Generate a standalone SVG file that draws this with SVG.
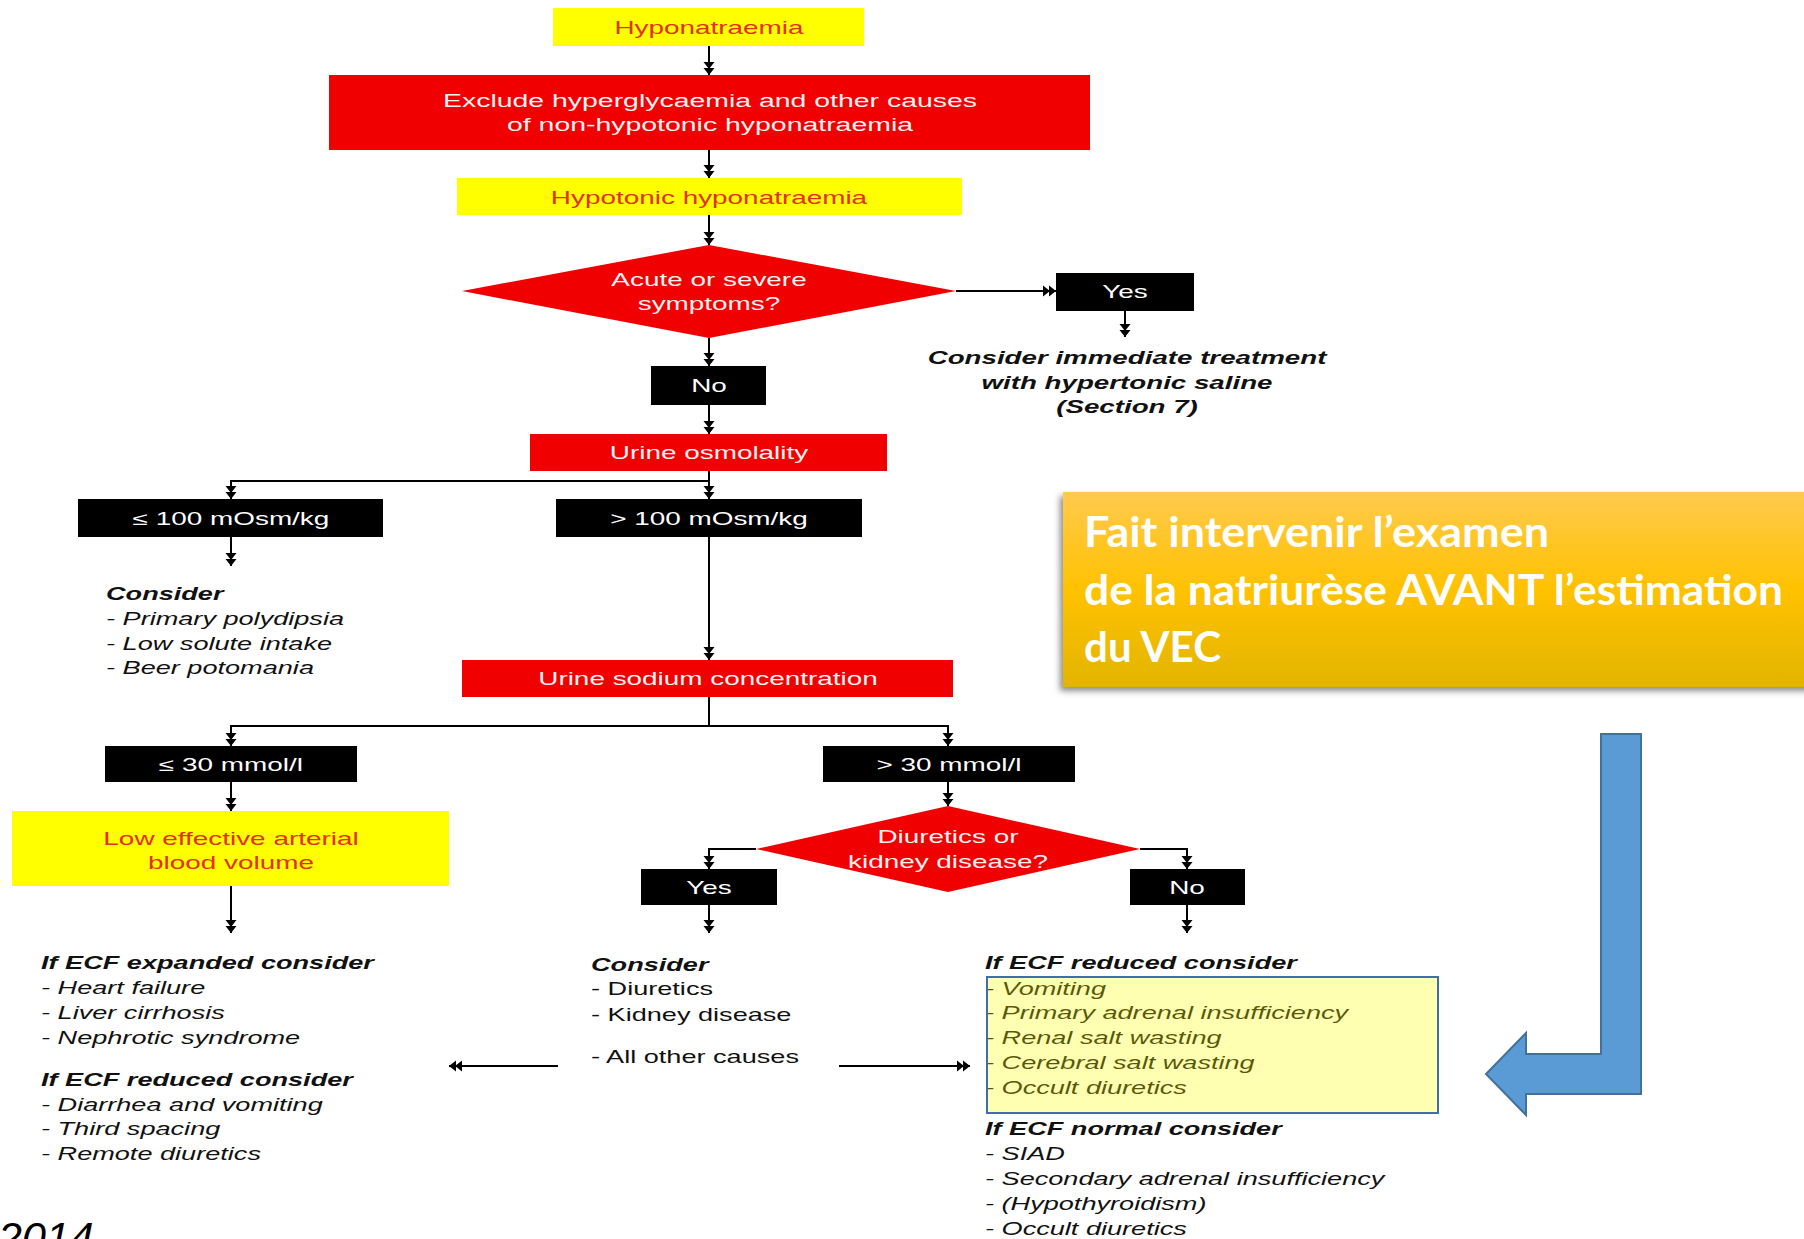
<svg xmlns="http://www.w3.org/2000/svg" width="1804" height="1239" viewBox="0 0 1804 1239">
<defs>
<style>
.t{font-family:"Liberation Sans",Arial,sans-serif;font-size:18px;text-anchor:middle}
.w{fill:#FFF2F2}
.wb{fill:#FFFFFF}
.r{fill:#E2301C}
.l{font-family:"Liberation Sans",Arial,sans-serif;font-size:17.5px;fill:#111}
.i{font-style:italic}
.b{font-weight:bold}
.yel{fill:#FFFF00}
.red{fill:#F00000}
.blk{fill:#000}
.con{fill:none;stroke:#000;stroke-width:2}
.cal{font-family:Lato,"Open Sans",sans-serif;font-weight:bold;font-size:42px;fill:#FFFFFF}
</style>
<marker id="dh" markerUnits="userSpaceOnUse" markerWidth="14" markerHeight="12" refX="13" refY="6" orient="auto" viewBox="0 0 14 12">
<path d="M0,0.5 L7,6 L0,11.5 Z M6,0.5 L13,6 L6,11.5 Z" fill="#000"/>
</marker>
<linearGradient id="og" x1="0" y1="0" x2="0" y2="1">
<stop offset="0" stop-color="#FFCA4E"/>
<stop offset="0.5" stop-color="#FFC200"/>
<stop offset="1" stop-color="#E3B400"/>
</linearGradient>
<filter id="sh" x="-10%" y="-10%" width="120%" height="130%">
<feDropShadow dx="-3" dy="4" stdDeviation="3" flood-color="#000" flood-opacity="0.45"/>
</filter>
</defs>
<rect width="1804" height="1239" fill="#FFFFFF"/>

<g id="connectors">
<path class="con" d="M709,46 V75" marker-end="url(#dh)"/>
<path class="con" d="M709,150 V178" marker-end="url(#dh)"/>
<path class="con" d="M709,215 V245" marker-end="url(#dh)"/>
<path class="con" d="M956,291 H1056" marker-end="url(#dh)"/>
<path class="con" d="M1125,311 V337" marker-end="url(#dh)"/>
<path class="con" d="M709,338 V366" marker-end="url(#dh)"/>
<path class="con" d="M709,405 V434" marker-end="url(#dh)"/>
<path class="con" d="M709,471 V499" marker-end="url(#dh)"/>
<path class="con" d="M709,481 H231 V499" marker-end="url(#dh)"/>
<path class="con" d="M231,537 V566" marker-end="url(#dh)"/>
<path class="con" d="M709,537 V660" marker-end="url(#dh)"/>
<path class="con" d="M709,697 V726 H231 V746" marker-end="url(#dh)"/>
<path class="con" d="M709,726 H948 V746" marker-end="url(#dh)"/>
<path class="con" d="M231,782 V811" marker-end="url(#dh)"/>
<path class="con" d="M231,886 V933" marker-end="url(#dh)"/>
<path class="con" d="M948,782 V806" marker-end="url(#dh)"/>
<path class="con" d="M756,849 H709 V869" marker-end="url(#dh)"/>
<path class="con" d="M1140,849 H1187 V869" marker-end="url(#dh)"/>
<path class="con" d="M709,905 V933" marker-end="url(#dh)"/>
<path class="con" d="M1187,905 V933" marker-end="url(#dh)"/>
<path class="con" d="M558,1066 H449" marker-end="url(#dh)"/>
<path class="con" d="M839,1066 H970" marker-end="url(#dh)"/>
</g>

<g id="n-hyponatraemia">
<rect class="yel" x="553" y="8" width="311" height="38"/>
<text class="t r" transform="translate(709,34) scale(1.55,1)">Hyponatraemia</text>
</g>

<g id="n-exclude">
<rect class="red" x="329" y="75" width="761" height="75"/>
<text class="t w" transform="translate(710,107) scale(1.58,1)">Exclude hyperglycaemia and other causes</text>
<text class="t w" transform="translate(710,131) scale(1.58,1)">of non-hypotonic hyponatraemia</text>
</g>

<g id="n-hypotonic">
<rect class="yel" x="457" y="178" width="505" height="37"/>
<text class="t r" transform="translate(709,204) scale(1.55,1)">Hypotonic hyponatraemia</text>
</g>

<g id="n-acute">
<polygon class="red" points="462,291 709,245 956,291 709,338"/>
<text class="t w" transform="translate(709,286) scale(1.55,1)">Acute or severe</text>
<text class="t w" transform="translate(709,310) scale(1.55,1)">symptoms?</text>
</g>

<g id="n-yes1">
<rect class="blk" x="1056" y="273" width="138" height="38"/>
<text class="t wb" transform="translate(1125,298) scale(1.55,1)">Yes</text>
</g>

<g id="n-treatment">
<text class="t i b" fill="#111" font-size="17.5" transform="translate(1127,364) scale(1.54,1)">Consider immediate treatment</text>
<text class="t i b" fill="#111" font-size="17.5" transform="translate(1127,389) scale(1.54,1)">with hypertonic saline</text>
<text class="t i b" fill="#111" font-size="17.5" transform="translate(1127,413) scale(1.54,1)">(Section 7)</text>
</g>

<g id="n-no1">
<rect class="blk" x="651" y="366" width="115" height="39"/>
<text class="t wb" transform="translate(709,392) scale(1.55,1)">No</text>
</g>

<g id="n-urine-osm">
<rect class="red" x="530" y="434" width="357" height="37"/>
<text class="t w" transform="translate(709,459) scale(1.55,1)">Urine osmolality</text>
</g>

<g id="n-le100">
<rect class="blk" x="78" y="499" width="305" height="38"/>
<text class="t wb" transform="translate(231,525) scale(1.55,1)">≤ 100 mOsm/kg</text>
</g>

<g id="n-gt100">
<rect class="blk" x="556" y="499" width="306" height="38"/>
<text class="t wb" transform="translate(709,525) scale(1.55,1)">&gt; 100 mOsm/kg</text>
</g>

<g id="n-consider1">
<text class="l i b" transform="translate(106,600) scale(1.55,1)">Consider</text>
<text class="l i" transform="translate(106,625) scale(1.55,1)">- Primary polydipsia</text>
<text class="l i" transform="translate(106,650) scale(1.55,1)">- Low solute intake</text>
<text class="l i" transform="translate(106,674) scale(1.55,1)">- Beer potomania</text>
</g>

<g id="n-urine-na">
<rect class="red" x="462" y="660" width="491" height="37"/>
<text class="t w" transform="translate(708,685) scale(1.55,1)">Urine sodium concentration</text>
</g>

<g id="n-le30">
<rect class="blk" x="105" y="746" width="252" height="36"/>
<text class="t wb" transform="translate(231,771) scale(1.55,1)">≤ 30 mmol/l</text>
</g>

<g id="n-gt30">
<rect class="blk" x="823" y="746" width="252" height="36"/>
<text class="t wb" transform="translate(949,771) scale(1.55,1)">&gt; 30 mmol/l</text>
</g>

<g id="n-lowvol">
<rect class="yel" x="12" y="811" width="437" height="75"/>
<text class="t r" transform="translate(231,845) scale(1.55,1)">Low effective arterial</text>
<text class="t r" transform="translate(231,869) scale(1.55,1)">blood volume</text>
</g>

<g id="n-diuretics">
<polygon class="red" points="756,849 948,806 1140,849 948,892"/>
<text class="t w" transform="translate(948,843) scale(1.55,1)">Diuretics or</text>
<text class="t w" transform="translate(948,868) scale(1.55,1)">kidney disease?</text>
</g>

<g id="n-yes2">
<rect class="blk" x="641" y="869" width="136" height="36"/>
<text class="t wb" transform="translate(709,894) scale(1.55,1)">Yes</text>
</g>

<g id="n-no2">
<rect class="blk" x="1130" y="869" width="115" height="36"/>
<text class="t wb" transform="translate(1187,894) scale(1.55,1)">No</text>
</g>

<g id="n-ecf-left">
<text class="l i b" transform="translate(41,969) scale(1.55,1)">If ECF expanded consider</text>
<text class="l i" transform="translate(41,994) scale(1.55,1)">- Heart failure</text>
<text class="l i" transform="translate(41,1019) scale(1.55,1)">- Liver cirrhosis</text>
<text class="l i" transform="translate(41,1044) scale(1.55,1)">- Nephrotic syndrome</text>
<text class="l i b" transform="translate(41,1086) scale(1.55,1)">If ECF reduced consider</text>
<text class="l i" transform="translate(41,1111) scale(1.55,1)">- Diarrhea and vomiting</text>
<text class="l i" transform="translate(41,1135) scale(1.55,1)">- Third spacing</text>
<text class="l i" transform="translate(41,1160) scale(1.55,1)">- Remote diuretics</text>
</g>

<g id="n-consider2">
<text class="l i b" transform="translate(591,971) scale(1.55,1)">Consider</text>
<text class="l" transform="translate(591,995) scale(1.55,1)">- Diuretics</text>
<text class="l" transform="translate(591,1021) scale(1.55,1)">- Kidney disease</text>
<text class="l" transform="translate(591,1063) scale(1.55,1)">- All other causes</text>
</g>

<g id="n-ecf-right">
<text class="l i b" transform="translate(985,969) scale(1.55,1)">If ECF reduced consider</text>
<text class="l i" transform="translate(985,995) scale(1.55,1)">- Vomiting</text>
<text class="l i" transform="translate(985,1019) scale(1.55,1)">- Primary adrenal insufficiency</text>
<text class="l i" transform="translate(985,1044) scale(1.55,1)">- Renal salt wasting</text>
<text class="l i" transform="translate(985,1069) scale(1.55,1)">- Cerebral salt wasting</text>
<text class="l i" transform="translate(985,1094) scale(1.55,1)">- Occult diuretics</text>
<rect x="987" y="977" width="451" height="136" fill="#FFFF00" fill-opacity="0.3" stroke="#3F6EA8" stroke-width="2"/>
<text class="l i b" transform="translate(985,1135) scale(1.55,1)">If ECF normal consider</text>
<text class="l i" transform="translate(985,1160) scale(1.55,1)">- SIAD</text>
<text class="l i" transform="translate(985,1185) scale(1.55,1)">- Secondary adrenal insufficiency</text>
<text class="l i" transform="translate(985,1210) scale(1.55,1)">- (Hypothyroidism)</text>
<text class="l i" transform="translate(985,1235) scale(1.55,1)">- Occult diuretics</text>
</g>

<g id="n-callout">
<rect x="1063" y="492" width="760" height="195" fill="url(#og)" filter="url(#sh)"/>
<text class="cal" x="1084" y="547" textLength="465" lengthAdjust="spacingAndGlyphs">Fait intervenir l’examen</text>
<text class="cal" x="1084" y="605" textLength="699" lengthAdjust="spacingAndGlyphs">de la natriurèse AVANT l’estimation</text>
<text class="cal" x="1084" y="662" textLength="137" lengthAdjust="spacingAndGlyphs">du VEC</text>
</g>

<g id="n-blue-arrow">
<polygon points="1601,734 1641,734 1641,1094 1526,1094 1526,1115 1486,1074 1526,1033 1526,1054 1601,1054" fill="#5B9BD5" stroke="#41719C" stroke-width="2"/>
</g>

<g id="n-year">
<text x="-2" y="1252" font-family="'Liberation Sans',Arial,sans-serif" font-style="italic" font-size="43" fill="#000">2014</text>
</g>
</svg>
